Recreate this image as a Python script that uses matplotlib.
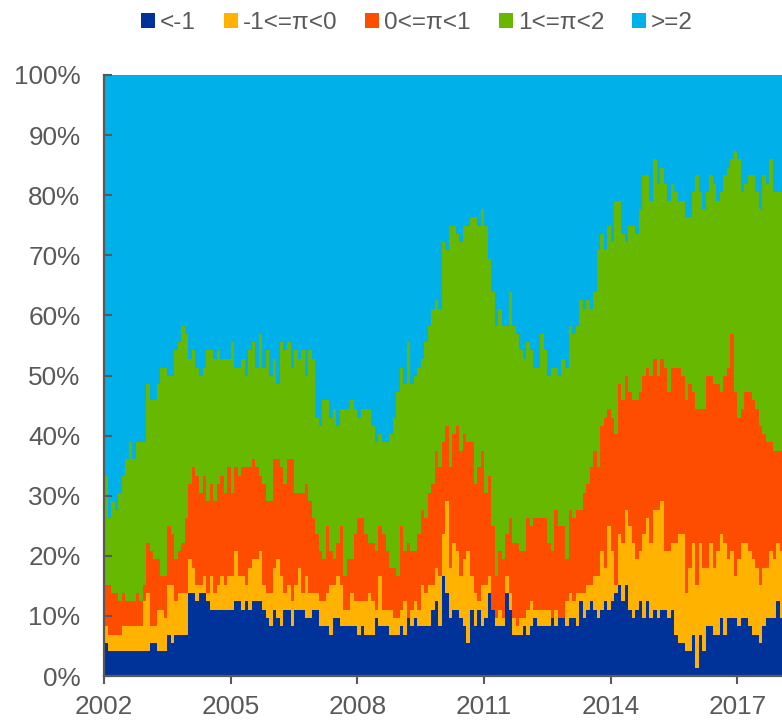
import matplotlib
matplotlib.use("Agg")
import matplotlib.pyplot as plt
import matplotlib.ticker as ticker
from matplotlib.patches import Patch
import numpy as np

# inflation buckets (share of countries), monthly from Jan 2002
labels = ["<-1", "-1<=\u03c0<0", "0<=\u03c0<1", "1<=\u03c0<2", ">=2"]
colors = ["#003399", "#FFB300", "#FF4D00", "#66B800", "#00B0E8"]
start_year = 2002
year_ticks = [2002, 2005, 2008, 2011, 2014, 2017]

# cumulative share (%) of countries with inflation below each threshold
below_m1 = [
    5.5, 4.1, 4.1, 4.1, 4.1, 4.1, 4.1, 4.1, 4.1, 4.1, 4.1, 4.1,
    4.1, 5.5, 5.5, 4.1, 4.1, 4.1, 6.9, 5.5, 6.9, 6.9, 6.9, 6.9,
    13.8, 13.8, 12.4, 13.8, 13.8, 12.4, 11.0, 11.0, 11.0, 11.0, 11.0, 11.0,
    11.0, 12.4, 12.4, 11.0, 12.4, 11.0, 12.4, 12.4, 12.4, 11.0, 9.7, 8.3,
    11.0, 9.7, 8.3, 11.0, 11.0, 8.3, 11.0, 11.0, 11.0, 9.7, 9.7, 11.0,
    11.0, 8.3, 8.3, 8.3, 6.9, 9.7, 9.7, 8.3, 8.3, 8.3, 8.3, 8.3,
    6.9, 8.3, 6.9, 6.9, 6.9, 9.7, 8.3, 8.3, 8.3, 6.9, 6.9, 6.9,
    8.3, 6.9, 9.7, 8.3, 9.7, 8.3, 8.3, 8.3, 8.3, 11.0, 12.4, 8.3,
    16.7, 13.8, 9.7, 11.0, 11.0, 9.7, 8.3, 5.5, 11.0, 8.3, 11.0, 8.3,
    9.7, 13.8, 11.0, 8.3, 8.3, 8.3, 13.8, 11.0, 6.9, 6.9, 6.9, 8.3,
    6.9, 8.3, 9.7, 8.3, 8.3, 8.3, 8.3, 9.7, 8.3, 9.7, 9.7, 8.3,
    9.7, 9.7, 8.3, 12.4, 9.7, 11.0, 12.4, 11.0, 9.7, 11.0, 12.4, 11.0,
    12.4, 13.8, 15.2, 12.4, 15.2, 11.0, 9.7, 11.0, 12.4, 9.7, 12.4, 9.7,
    11.0, 9.7, 11.0, 11.0, 9.7, 11.0, 6.9, 5.5, 5.5, 4.1, 4.1, 6.9,
    1.4, 6.9, 4.1, 8.3, 8.3, 6.9, 6.9, 9.7, 6.9, 9.7, 9.7, 9.7,
    8.3, 9.7, 9.7, 8.3, 6.9, 6.9, 5.5, 8.3, 9.7, 9.7, 9.7, 12.4,
    9.7,
]
below_0 = [
    8.3, 6.9, 6.9, 6.9, 6.9, 8.3, 8.3, 8.3, 8.3, 8.3, 8.3, 12.4,
    13.8, 8.3, 8.3, 11.0, 11.0, 9.7, 15.2, 15.2, 12.4, 13.8, 13.8, 13.8,
    19.4, 17.9, 15.2, 15.2, 16.7, 13.8, 16.7, 13.8, 15.2, 16.7, 15.2, 16.7,
    16.7, 20.8, 16.7, 16.7, 15.2, 17.9, 19.4, 19.4, 20.8, 15.2, 13.8, 13.8,
    17.9, 19.4, 16.7, 13.8, 15.2, 12.4, 15.2, 17.9, 13.8, 16.7, 13.8, 13.8,
    13.8, 12.4, 12.4, 13.8, 15.2, 15.2, 16.7, 15.2, 11.0, 11.0, 13.8, 12.4,
    12.4, 12.4, 12.4, 13.8, 12.4, 11.0, 16.7, 11.0, 11.0, 11.0, 9.7, 9.7,
    11.0, 12.4, 9.7, 11.0, 12.4, 11.0, 15.2, 13.8, 15.2, 15.2, 17.9, 16.7,
    23.6, 29.1, 17.9, 22.2, 20.8, 16.7, 19.4, 20.8, 16.7, 13.8, 12.4, 15.2,
    15.2, 16.7, 11.0, 9.7, 11.0, 9.7, 16.7, 13.8, 9.7, 8.3, 9.7, 9.7,
    11.0, 12.4, 11.0, 11.0, 11.0, 11.0, 11.0, 9.7, 11.0, 9.7, 9.7, 12.4,
    13.8, 12.4, 13.8, 13.8, 13.8, 15.2, 15.2, 16.7, 16.7, 20.8, 17.9, 25.0,
    20.8, 15.2, 23.6, 22.2, 27.7, 25.0, 22.2, 19.4, 20.8, 23.6, 26.3, 22.2,
    27.7, 27.7, 29.1, 20.8, 20.8, 22.2, 22.2, 23.6, 23.6, 13.8, 17.9, 22.2,
    15.2, 22.2, 17.9, 17.9, 22.2, 17.9, 20.8, 23.6, 22.2, 19.4, 20.8, 16.7,
    19.4, 22.2, 22.2, 20.8, 19.4, 17.9, 15.2, 17.9, 17.9, 20.8, 19.4, 22.2,
    20.8,
]
below_1 = [
    15.2, 15.2, 13.8, 13.8, 12.4, 13.8, 12.4, 12.4, 12.4, 13.8, 12.4, 15.2,
    22.2, 20.8, 19.4, 19.4, 16.7, 16.7, 25.0, 23.6, 19.4, 20.8, 22.2, 26.3,
    31.9, 34.7, 33.3, 30.5, 33.3, 29.1, 31.9, 29.1, 31.9, 33.3, 30.5, 34.7,
    30.5, 34.7, 33.3, 34.7, 34.7, 34.7, 36.1, 34.7, 33.3, 31.9, 29.1, 29.1,
    36.1, 36.1, 34.7, 31.9, 36.1, 36.1, 30.5, 30.5, 30.5, 31.9, 29.1, 26.3,
    23.6, 20.8, 19.4, 25.0, 20.8, 19.4, 22.2, 25.0, 16.7, 19.4, 19.4, 23.6,
    26.3, 26.3, 23.6, 22.2, 22.2, 20.8, 25.0, 23.6, 20.8, 17.9, 17.9, 16.7,
    25.0, 20.8, 22.2, 20.8, 20.8, 23.6, 27.7, 26.3, 30.5, 31.9, 37.5, 34.7,
    38.9, 41.6, 34.7, 40.2, 41.6, 37.5, 40.2, 38.9, 38.9, 31.9, 34.7, 37.5,
    30.5, 33.3, 25.0, 16.7, 20.8, 19.4, 23.6, 26.3, 22.2, 22.2, 20.8, 20.8,
    26.3, 25.0, 26.3, 26.3, 26.3, 26.3, 22.2, 20.8, 27.7, 25.0, 25.0, 19.4,
    27.7, 26.3, 27.7, 27.7, 30.5, 31.9, 34.7, 37.5, 34.7, 41.6, 43.0, 44.4,
    43.0, 40.2, 48.6, 45.9, 50.0, 47.2, 45.9, 45.9, 47.2, 50.0, 51.3, 50.0,
    52.8, 50.0, 52.8, 51.3, 47.2, 51.3, 51.3, 51.3, 50.0, 45.9, 48.6, 47.2,
    44.4, 44.4, 44.4, 50.0, 50.0, 48.6, 48.6, 47.2, 50.0, 51.3, 56.9, 47.2,
    43.0, 44.4, 47.2, 47.2, 45.9, 44.4, 41.6, 40.2, 38.9, 38.9, 37.5, 37.5,
    37.5,
]
below_2 = [
    33.3, 26.3, 29.1, 27.7, 30.5, 33.3, 36.1, 38.9, 36.1, 38.9, 38.9, 38.9,
    48.6, 45.9, 45.9, 48.6, 51.3, 51.3, 50.0, 50.0, 54.2, 55.5, 58.3, 56.9,
    52.8, 54.2, 51.3, 50.0, 51.3, 54.2, 54.2, 52.8, 54.2, 52.8, 52.8, 52.8,
    55.5, 51.3, 51.3, 52.8, 50.0, 54.2, 55.5, 51.3, 56.9, 51.3, 54.2, 50.0,
    52.8, 48.6, 55.5, 54.2, 55.5, 51.3, 54.2, 52.8, 54.2, 50.0, 54.2, 52.8,
    43.0, 41.6, 45.9, 45.9, 43.0, 44.4, 41.6, 44.4, 44.4, 44.4, 45.9, 44.4,
    43.0, 44.4, 44.4, 44.4, 41.6, 38.9, 40.2, 38.9, 38.9, 40.2, 43.0, 47.2,
    51.3, 48.6, 55.5, 48.6, 50.0, 51.3, 52.8, 55.5, 58.3, 61.1, 62.5, 61.1,
    72.2, 70.8, 74.9, 74.9, 73.5, 72.2, 74.9, 74.9, 76.3, 76.3, 74.9, 77.7,
    74.9, 69.4, 63.9, 58.3, 61.1, 58.3, 58.3, 63.9, 58.3, 56.9, 54.2, 52.8,
    55.5, 54.2, 51.3, 51.3, 56.9, 54.2, 50.0, 51.3, 51.3, 50.0, 52.8, 51.3,
    58.3, 56.9, 58.3, 62.5, 61.1, 62.5, 61.1, 63.9, 70.8, 73.5, 70.8, 74.9,
    72.2, 79.1, 79.1, 73.5, 72.2, 74.9, 74.9, 73.5, 77.7, 83.3, 83.3, 79.1,
    86.0, 81.9, 84.6, 81.9, 79.1, 81.9, 80.5, 79.1, 79.1, 76.3, 76.3, 80.5,
    83.3, 80.5, 77.7, 80.5, 83.3, 81.9, 79.1, 80.5, 83.3, 84.6, 86.0, 87.4,
    86.0, 80.5, 81.9, 83.3, 83.3, 80.5, 77.7, 83.3, 81.9, 86.0, 80.5, 80.5,
    80.5,
]


def main():
    """Stacked monthly shares of countries by inflation bucket."""
    plt.rcParams["font.family"] = ["Liberation Sans", "DejaVu Sans"]
    grey = "#595959"

    n = len(below_2)
    x = start_year + np.arange(n + 1) / 12
    # layer tops, drawn back to front so neighbouring fills leave no seams
    tops = [below_m1, below_0, below_1, below_2, [100.0] * n]

    fig = plt.figure(figsize=(7.82, 7.21), dpi=100)
    ax = fig.add_axes([104 / 782, 45 / 721, 678 / 782, 601 / 721])

    for top, color in reversed(list(zip(tops, colors))):
        y = np.append(top, top[-1]) / 100
        ax.fill_between(x, 0, y, step="post", color=color, linewidth=0)

    ax.set_xlim(start_year, start_year + 678 / 42.23)
    ax.set_ylim(0, 1)
    ax.set_xticks(year_ticks)
    ax.set_yticks(np.arange(0, 1.01, 0.1))
    ax.yaxis.set_major_formatter(ticker.PercentFormatter(1.0, decimals=0))

    for side in ["top", "right"]:
        ax.spines[side].set_visible(False)
    for side in ["left", "bottom"]:
        ax.spines[side].set_color(grey)
        ax.spines[side].set_linewidth(1.6)
    ax.tick_params(axis="y", direction="in", length=6, width=1.5,
                   color=grey, labelcolor=grey, labelsize=18.8, pad=17)
    ax.tick_params(axis="x", direction="out", length=6, width=1.5,
                   color=grey, labelcolor=grey, labelsize=18.8, pad=8)

    handles = [Patch(facecolor=c, edgecolor="none") for c in colors]
    fig.legend(handles, labels, loc="center", ncol=5, frameon=False,
               bbox_to_anchor=(417 / 782, 1 - 23 / 721), fontsize=17.5,
               handlelength=0.58, handleheight=0.58, handletextpad=0.2,
               columnspacing=1.15, labelcolor=grey, borderaxespad=0)

    fig.savefig("out.png", dpi=100)


if __name__ == "__main__":
    main()
